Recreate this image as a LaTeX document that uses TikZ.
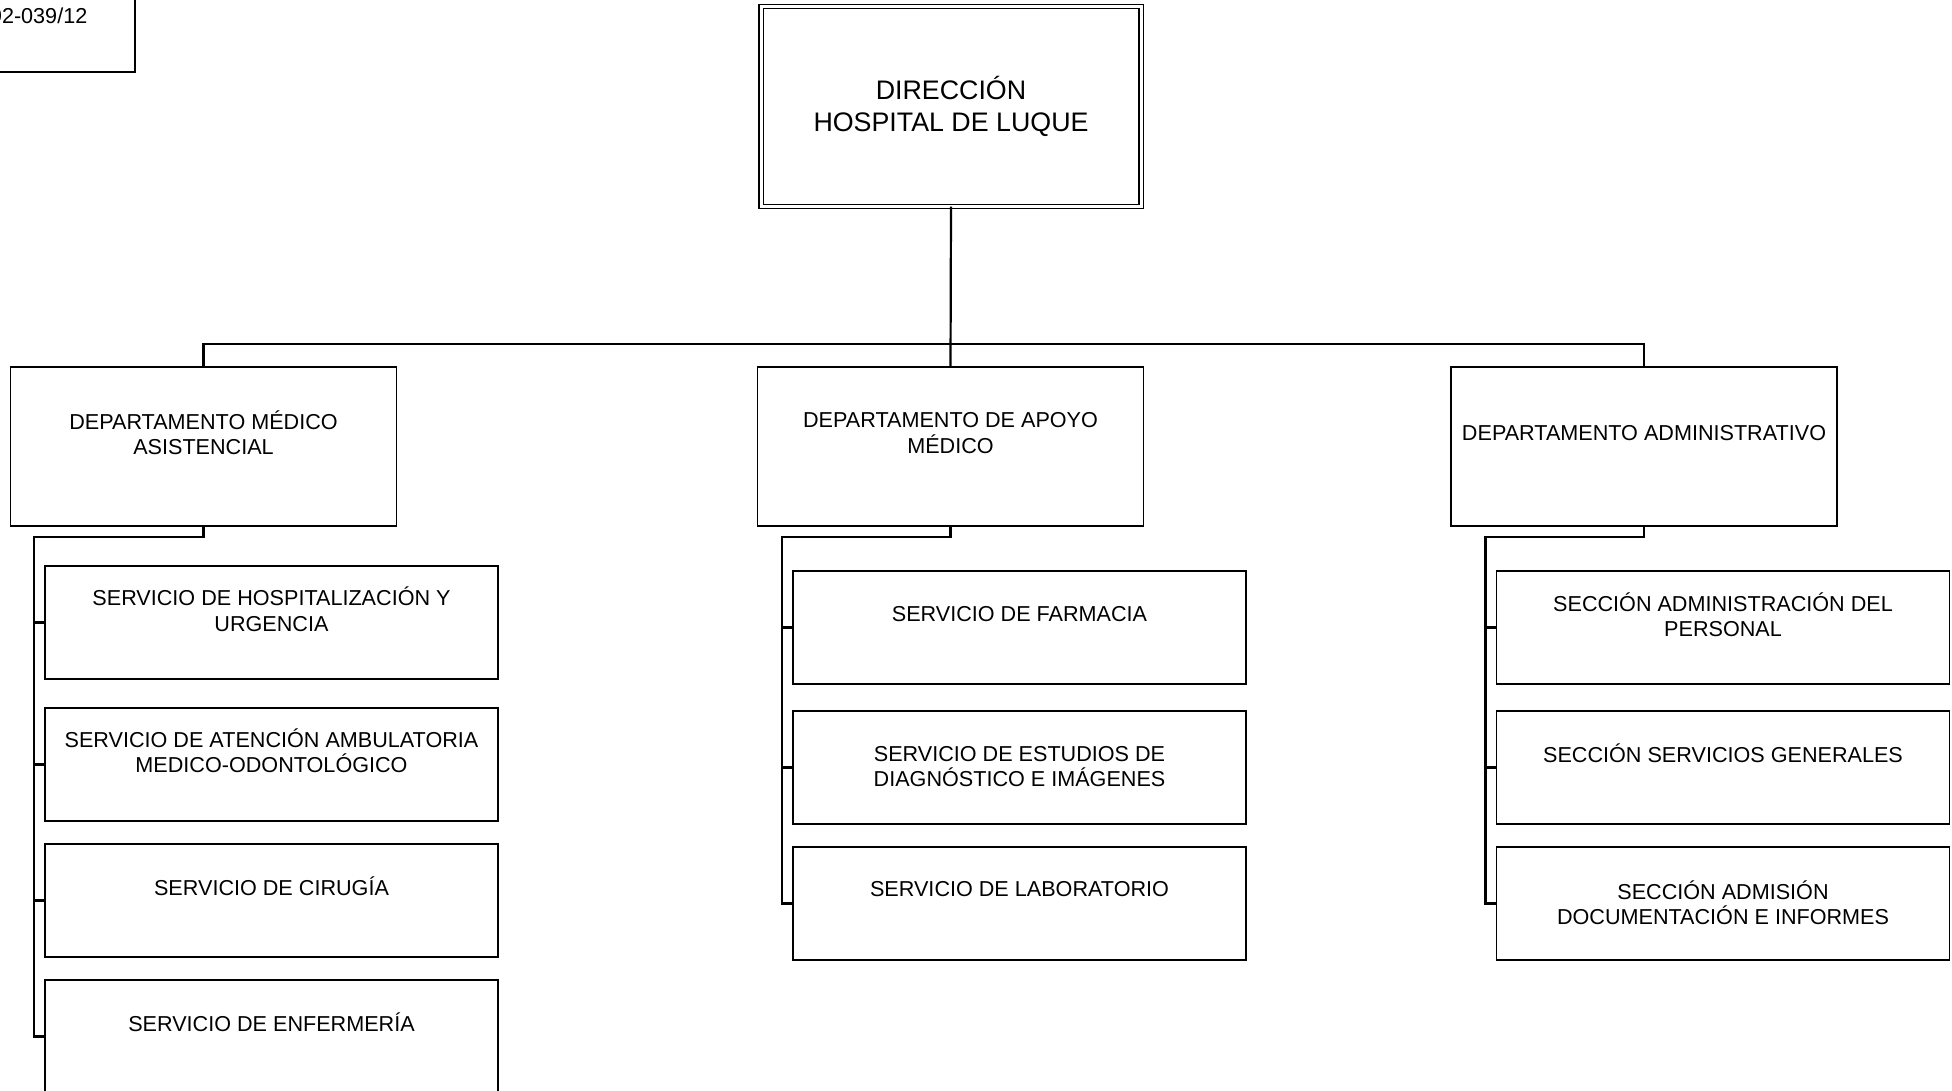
\documentclass[tikz,border=0pt]{standalone}
\usepackage{fontspec}
\setmainfont{Liberation Sans}
\usetikzlibrary{positioning}

\begin{document}
\begin{tikzpicture}[x=1pt,y=-1pt,
    link/.style={line width=2.2pt},
    dirbox/.style={draw,double,double distance=3pt,line width=1.4pt,minimum width=380pt,minimum height=200pt,
        inner sep=0pt,outer sep=0pt,align=center,font=\fontsize{26.8}{32.5}\selectfont},
    deptbox/.style={draw,line width=1.8pt,minimum width=386pt,minimum height=159pt,inner sep=0pt,outer sep=0pt},
    unitbox/.style={draw,line width=1.8pt,minimum width=453pt,minimum height=113pt,inner sep=0pt,outer sep=0pt},
    boxtext/.style={align=center,inner sep=0pt,font=\fontsize{21.6}{25.5}\selectfont}]
    \useasboundingbox (0,0) rectangle (1952,1090);

    % codigo
    \node[draw,line width=1.8pt,minimum width=155pt,minimum height=92pt,inner sep=0pt] (code) at (57.5,26) {};
    \node[boxtext,anchor=base east] (codet) at (87.5,23) {92-039/12};

    % direccion
    \node[dirbox] (dir) at (951,106.5) {DIRECCIÓN\\HOSPITAL DE LUQUE};

    % departamentos
    \node[deptbox] (dmed) at (203.5,446.5) {};
    \node[deptbox] (dapo) at (950.5,446.5) {};
    \node[deptbox] (dadm) at (1644,446.5) {};
    \node[boxtext] (dmedt) at ([yshift=-65.5pt]dmed.north) {DEPARTAMENTO MÉDICO\\ASISTENCIAL};
    \node[boxtext] (dapot) at ([yshift=-66pt]dapo.north) {DEPARTAMENTO DE APOYO\\MÉDICO};
    \node[boxtext] (dadmt) at ([yshift=-66.5pt]dadm.north) {DEPARTAMENTO ADMINISTRATIVO};

    \coordinate (bus) at (950.5,344);
    \draw[link] (dir.south) -- (dapo.north);
    \draw[link] (dmed.north) |- (bus) -| (dadm.north);

    % servicios medicos
    \node[unitbox] (s1) at (271.5,622.5) {};
    \node[unitbox] (s2) at (271.5,764.5) {};
    \node[unitbox] (s3) at (271.5,900.5) {};
    \node[unitbox] (s4) at (271.5,1036.5) {};
    \node[boxtext] (s1t) at ([yshift=-43pt]s1.north) {SERVICIO DE HOSPITALIZACIÓN Y\\URGENCIA};
    \node[boxtext] (s2t) at ([yshift=-42.5pt]s2.north) {SERVICIO DE ATENCIÓN AMBULATORIA\\MEDICO-ODONTOLÓGICO};
    \node[boxtext] (s3t) at ([yshift=-42.5pt]s3.north) {SERVICIO DE CIRUGÍA};
    \node[boxtext] (s4t) at ([yshift=-42pt]s4.north) {SERVICIO DE ENFERMERÍA};

    % servicios de apoyo
    \node[unitbox] (m1) at (1019.5,627.5) {};
    \node[unitbox] (m2) at (1019.5,767.5) {};
    \node[unitbox] (m3) at (1019.5,903.5) {};
    \node[boxtext] (m1t) at ([yshift=-43.5pt]m1.north) {SERVICIO DE FARMACIA};
    \node[boxtext] (m2t) at ([yshift=-55.5pt]m2.north) {SERVICIO DE ESTUDIOS DE\\DIAGNÓSTICO E IMÁGENES};
    \node[boxtext] (m3t) at ([yshift=-42.5pt]m3.north) {SERVICIO DE LABORATORIO};

    % secciones administrativas
    \node[unitbox] (r1) at (1723,627.5) {};
    \node[unitbox] (r2) at (1723,767.5) {};
    \node[unitbox] (r3) at (1723,903.5) {};
    \node[boxtext] (r1t) at ([yshift=-43.5pt]r1.north) {SECCIÓN ADMINISTRACIÓN DEL\\PERSONAL};
    \node[boxtext] (r2t) at ([yshift=-42.5pt]r2.north) {SECCIÓN SERVICIOS GENERALES};
    \node[boxtext] (r3t) at ([yshift=-55.5pt]r3.north) {SECCIÓN ADMISIÓN\\DOCUMENTACIÓN E INFORMES};

    % lineas de dependencia
    \draw[link] (dmed.south) -- ++(0,11) -| ([xshift=-11pt]s4.west) -- (s4.west);
    \draw[link] (dapo.south) -- ++(0,11) -| ([xshift=-11pt]m3.west) -- (m3.west);
    \draw[link] (dadm.south) -- ++(0,11) -| ([xshift=-11pt]r3.west) -- (r3.west);
    \foreach \u in {s1,s2,s3,m1,m2,r1,r2}
        \draw[link] ([xshift=-11pt]\u.west) -- (\u.west);
\end{tikzpicture}
\end{document}
